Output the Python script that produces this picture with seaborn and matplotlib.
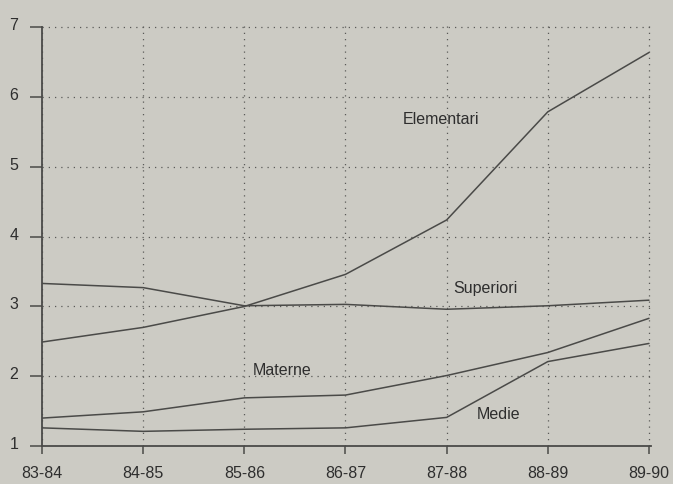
import seaborn as sns
import matplotlib.pyplot as plt
import matplotlib.transforms as mtransforms
import pandas as pd

years = ["83-84", "84-85", "85-86", "86-87", "87-88", "88-89", "89-90"]
elementari = [2.49, 2.70, 3.00, 3.46, 4.24, 5.79, 6.64]
superiori = [3.33, 3.27, 3.01, 3.03, 2.96, 3.01, 3.09]
materne = [1.40, 1.49, 1.69, 1.73, 2.01, 2.34, 2.83]
medie = [1.26, 1.21, 1.24, 1.26, 1.41, 2.21, 2.47]

series = {"Elementari": elementari, "Superiori": superiori,
          "Materne": materne, "Medie": medie}
rows = []
for name, vals in series.items():
    for i, v in enumerate(vals):
        rows.append({"pos": i, "valore": v, "scuola": name})
df = pd.DataFrame(rows)

bg = "#cccbc4"
ink = "#4a4a48"

sns.set_style("white")
plt.rcParams["font.family"] = ["Liberation Sans", "DejaVu Sans"]

fig = plt.figure(figsize=(6.73, 4.85), dpi=100, facecolor=bg)
ax = fig.add_axes([42 / 673, 38 / 485, 609 / 673, 420 / 485])
ax.set_facecolor(bg)

sns.lineplot(data=df, x="pos", y="valore", hue="scuola",
             palette=[ink] * 4, linewidth=1.1, legend=False, ax=ax)

ax.set_xlim(0, 6.02)
ax.set_ylim(1, 7.02)
ax.set_xticks(range(len(years)))
ax.set_xticklabels(years)
ax.set_yticks(range(1, 8))
ax.set_xlabel("")
ax.set_ylabel("")

ax.grid(True, color="#5a5a58", linestyle=(0, (1, 4)), linewidth=0.9)
for s in ["top", "right"]:
    ax.spines[s].set_visible(False)
for s in ["left", "bottom"]:
    ax.spines[s].set_color(ink)
    ax.spines[s].set_linewidth(1.3)
ax.spines["left"].set_bounds(1, 7)

ax.tick_params(axis="y", left=True, direction="out", length=9, width=1.1,
               color=ink, pad=8, labelsize=11.5, labelcolor="#2e2e2e")
ax.tick_params(axis="x", bottom=True, direction="out", length=6, width=1.1,
               color=ink, pad=8, labelsize=11.5, labelcolor="#2e2e2e")

# y labels sit a little above their ticks in the original
shift = mtransforms.ScaledTranslation(0, 4 / 100, fig.dpi_scale_trans)
for lab in ax.get_yticklabels():
    lab.set_transform(lab.get_transform() + shift)

labels = [("Elementari", 3.94, 5.70), ("Superiori", 4.38, 3.27),
          ("Materne", 2.37, 2.09), ("Medie", 4.51, 1.46)]
for txt, x, y in labels:
    ax.text(x, y, txt, ha="center", va="center", fontsize=11.5,
            color="#2e2e2e")

fig.savefig("out.png", dpi=100, facecolor=bg)
